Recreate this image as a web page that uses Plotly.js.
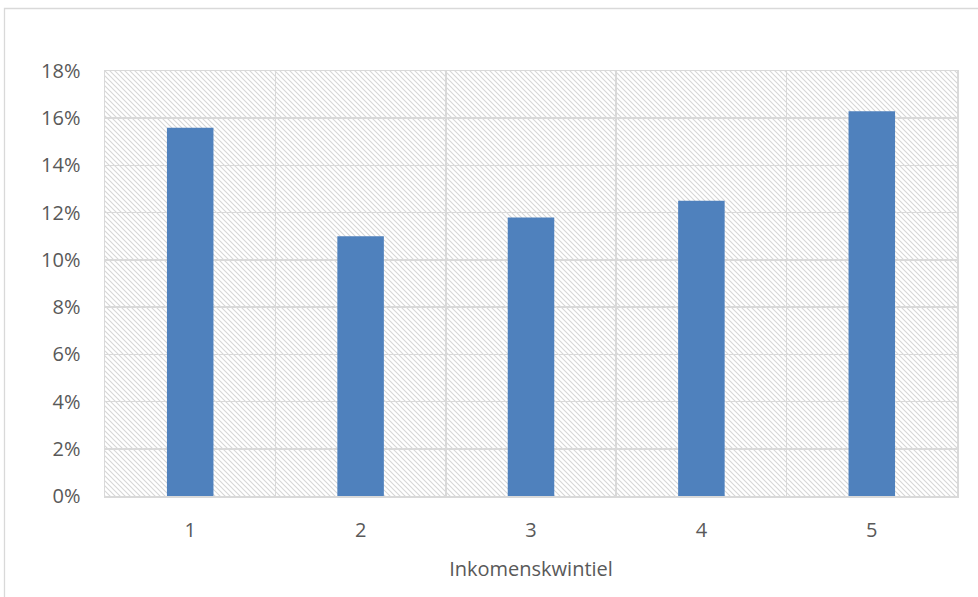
<!DOCTYPE html>
<html>
<head>
<meta charset="utf-8">
<script src="https://cdn.plot.ly/plotly-3.0.1.min.js"></script>
<style>
html,body{margin:0;padding:0;background:#fff;}
#chart{width:978px;height:597px;}
</style>
</head>
<body>
<div id="chart"></div>
<script>
const categories = ['1', '2', '3', '4', '5'];
const values = [0.156, 0.110, 0.118, 0.125, 0.163];
const yTickVals = [0, 0.02, 0.04, 0.06, 0.08, 0.10, 0.12, 0.14, 0.16, 0.18];
const xTitle = 'Inkomenskwintiel';

const W = 852, H = 425;
let svg = '<svg xmlns="http://www.w3.org/2000/svg" width="' + W + '" height="' + H + '">' +
  '<defs><pattern id="p" width="5" height="5" patternUnits="userSpaceOnUse">' +
  '<path d="M-1,-1 L6,6 M-1,4 L1,6 M4,-1 L6,1" stroke="#d6d6d6" stroke-width="1.1"/>' +
  '</pattern></defs><rect width="' + W + '" height="' + H + '" fill="url(#p)"/></svg>';
const hatch = 'data:image/svg+xml;base64,' + btoa(svg);

const font = "'Open Sans', sans-serif";
const trace = {
  type: 'bar',
  x: categories,
  y: values,
  width: 0.273,
  marker: {color: '#4f81bd'},
  hoverinfo: 'x+y'
};

const layout = {
  width: 978, height: 597,
  margin: {l: 105, r: 21, t: 71, b: 101},
  paper_bgcolor: '#ffffff',
  plot_bgcolor: 'rgba(0,0,0,0)',
  showlegend: false,
  font: {family: font, color: '#595959', size: 20},
  xaxis: {
    type: 'category',
    tickson: 'boundaries',
    showgrid: true,
    gridcolor: '#d9d9d9',
    gridwidth: 1.5,
    ticks: '',
    showline: true,
    linecolor: '#d9d9d9',
    linewidth: 1.5,
    mirror: true,
    tickfont: {size: 20, color: '#595959'},
    ticklabelstandoff: 15,
    title: {text: xTitle, font: {size: 20, color: '#595959'}, standoff: 20},
    zeroline: false
  },
  yaxis: {
    range: [0, 0.18],
    tickvals: yTickVals,
    tickformat: '.0%',
    showgrid: true,
    gridcolor: '#d9d9d9',
    gridwidth: 1.5,
    zeroline: false,
    showline: true,
    linecolor: '#d9d9d9',
    linewidth: 1.5,
    mirror: true,
    ticks: '',
    ticklabelstandoff: 19,
    tickfont: {size: 20, color: '#595959'}
  },
  images: [{
    source: hatch,
    xref: 'paper', yref: 'paper',
    x: 0, y: 1, sizex: 1, sizey: 1,
    xanchor: 'left', yanchor: 'top',
    sizing: 'stretch',
    layer: 'below'
  }],
  shapes: [{
    type: 'rect',
    xref: 'paper', yref: 'paper',
    x0: (4.5 - 105) / W, x1: (990 - 105) / W,
    y0: (496 - 610) / H, y1: (496 - 8.5) / H,
    line: {color: '#d9d9d9', width: 1.3},
    fillcolor: 'rgba(0,0,0,0)',
    layer: 'below'
  }]
};

Plotly.newPlot('chart', [trace], layout, {displayModeBar: false, staticPlot: true});
</script>
</body>
</html>
